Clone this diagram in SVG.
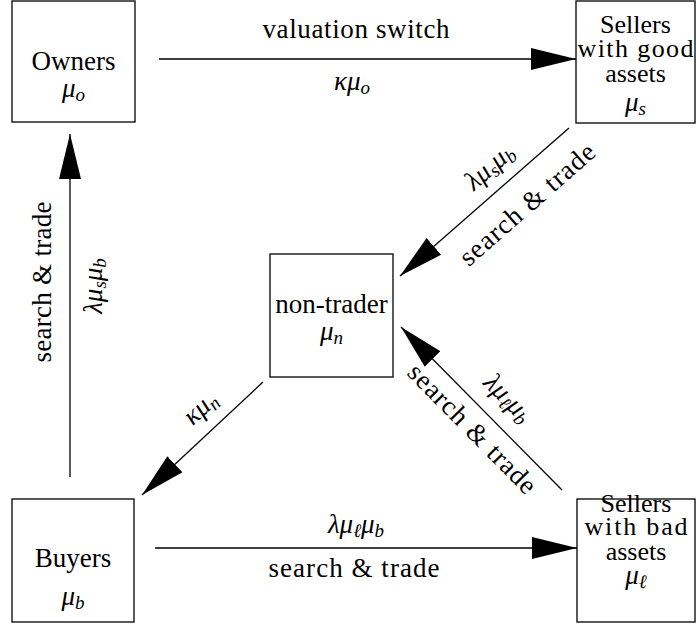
<svg xmlns="http://www.w3.org/2000/svg" width="696" height="625" viewBox="0 0 696 625">
<style>
.box{fill:#fff;stroke:#000;stroke-width:1.3}
.t{font-family:'Liberation Serif','DejaVu Serif',serif;font-size:27px;fill:#000;text-anchor:middle}
.n{font-size:26px}
.m{font-style:italic}
.s{font-style:italic;font-size:19px}
.c{stroke:#000;stroke-width:1.3;fill:none;marker-end:url(#ah)}
</style>
<defs>
<marker id="ah" markerUnits="userSpaceOnUse" markerWidth="46" markerHeight="24" viewBox="0 0 46 24" refX="45" refY="12" orient="auto">
<path d="M0,1 L45,12 L0,23 z" fill="#000"/>
</marker>
</defs>
<g id="connectors">
<line class="c" x1="159" y1="59" x2="576" y2="59"/>
<line class="c" x1="569" y1="128" x2="400" y2="276"/>
<line class="c" x1="263" y1="382" x2="142" y2="495"/>
<line class="c" x1="562" y1="490" x2="401" y2="327"/>
<line class="c" x1="70" y1="477" x2="70" y2="134"/>
<line class="c" x1="155" y1="548" x2="577" y2="548"/>
<text class="t" x="356" y="38" textLength="187">valuation switch</text>
<text class="t" x="352" y="90"><tspan class="m">κμ</tspan><tspan class="s" dy="4">o</tspan></text>
<text class="t" transform="translate(495,173) rotate(-41.2)"><tspan class="m">λμ</tspan><tspan class="s" dy="4">s</tspan><tspan class="m" dy="-4">μ</tspan><tspan class="s" dy="4">b</tspan></text>
<text class="t" transform="translate(533,211) rotate(-41.2)" textLength="171">search &amp; trade</text>
<text class="t" transform="translate(206,414) rotate(-43)"><tspan class="m">κμ</tspan><tspan class="s" dy="4">n</tspan></text>
<text class="t" transform="translate(502,404) rotate(45.4)"><tspan class="m">λμ</tspan><tspan class="s" dy="4">ℓ</tspan><tspan class="m" dy="-4">μ</tspan><tspan class="s" dy="4">b</tspan></text>
<text class="t" transform="translate(466,435) rotate(45.4)" textLength="171">search &amp; trade</text>
<text class="t" transform="translate(51,282) rotate(-90)" textLength="161">search &amp; trade</text>
<text class="t" transform="translate(102,286) rotate(-90)"><tspan class="m">λμ</tspan><tspan class="s" dy="4">s</tspan><tspan class="m" dy="-4">μ</tspan><tspan class="s" dy="4">b</tspan></text>
<text class="t" x="356" y="533"><tspan class="m">λμ</tspan><tspan class="s" dy="4">ℓ</tspan><tspan class="m" dy="-4">μ</tspan><tspan class="s" dy="4">b</tspan></text>
<text class="t" x="354" y="577" textLength="171">search &amp; trade</text>
</g>
<g id="owners">
<rect class="box" x="12" y="1" width="123" height="121"/>
<text class="t" x="73.5" y="70">Owners</text>
<text class="t" x="73.5" y="97"><tspan class="m">μ</tspan><tspan class="s" dy="4">o</tspan></text>
</g>
<g id="sellers-good">
<rect class="box" x="576" y="1" width="119" height="122"/>
<text class="t n" x="635.5" y="33">Sellers</text>
<text class="t n" x="635.5" y="57" textLength="116">with good</text>
<text class="t n" x="635.5" y="82">assets</text>
<text class="t" x="635.5" y="111"><tspan class="m">μ</tspan><tspan class="s" dy="4">s</tspan></text>
</g>
<g id="non-trader">
<rect class="box" x="270" y="254" width="123" height="123"/>
<text class="t" x="331.5" y="313">non-trader</text>
<text class="t" x="331.5" y="340"><tspan class="m">μ</tspan><tspan class="s" dy="4">n</tspan></text>
</g>
<g id="buyers">
<rect class="box" x="12" y="499" width="122" height="123"/>
<text class="t" x="73" y="567">Buyers</text>
<text class="t" x="73" y="605"><tspan class="m">μ</tspan><tspan class="s" dy="4">b</tspan></text>
</g>
<g id="sellers-bad">
<rect class="box" x="577" y="499" width="118" height="123"/>
<text class="t n" x="636" y="512">Sellers</text>
<text class="t n" x="636" y="535" textLength="103">with bad</text>
<text class="t n" x="636" y="560">assets</text>
<text class="t" x="636" y="584"><tspan class="m">μ</tspan><tspan class="s" dy="4">ℓ</tspan></text>
</g>
</svg>
